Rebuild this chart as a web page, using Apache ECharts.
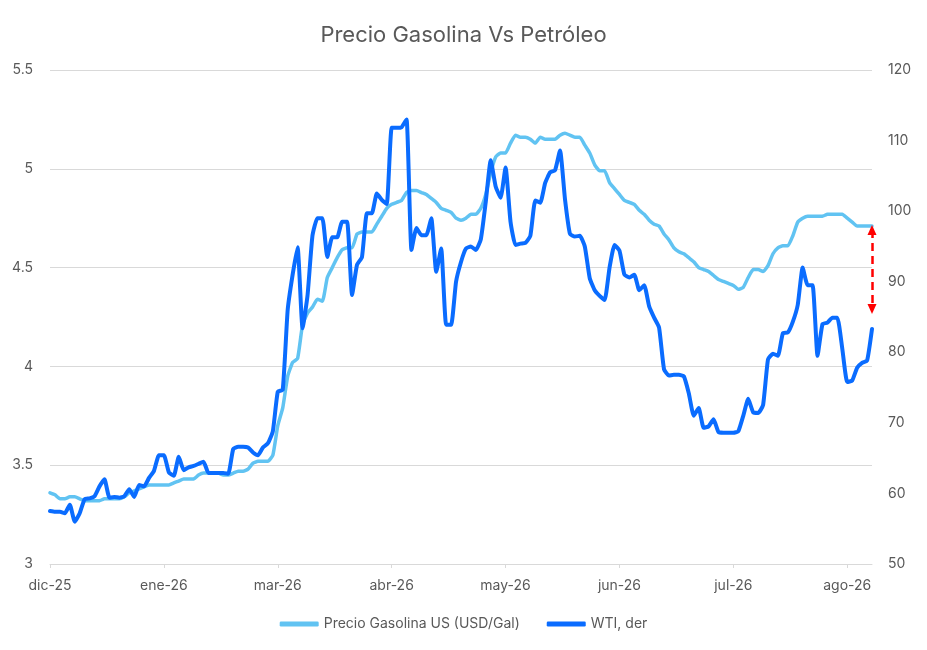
<!DOCTYPE html>
<html>
<head>
<meta charset="utf-8">
<script src="https://cdn.jsdelivr.net/npm/echarts@6/dist/echarts.min.js"></script>
<style>html,body{margin:0;padding:0;background:#fff}#c{width:927px;height:650px}</style>
</head>
<body>
<div id="c"></div>
<script>
var tickLabels = ["dic-25","ene-26","mar-26","abr-26","may-26","jun-26","jul-26","ago-26"];
var tickEvery = 23;
var gasolina = [
3.36,3.35,3.33,3.33,3.34,3.34,3.33,3.32,3.32,3.32,
3.32,3.33,3.33,3.33,3.33,3.34,3.36,3.37,3.38,3.39,
3.40,3.40,3.40,3.40,3.40,3.41,3.42,3.43,3.43,3.43,
3.45,3.46,3.46,3.46,3.46,3.45,3.45,3.46,3.47,3.47,
3.48,3.51,3.52,3.52,3.52,3.55,3.70,3.79,3.95,4.02,
4.04,4.21,4.27,4.30,4.34,4.33,4.45,4.50,4.55,4.59,
4.60,4.60,4.67,4.68,4.68,4.68,4.72,4.76,4.80,4.82,
4.83,4.84,4.88,4.89,4.89,4.88,4.87,4.85,4.83,4.80,
4.79,4.78,4.75,4.74,4.75,4.77,4.77,4.80,4.87,4.98,
5.06,5.08,5.08,5.13,5.17,5.16,5.16,5.15,5.13,5.16,
5.15,5.15,5.15,5.17,5.18,5.17,5.16,5.16,5.12,5.08,
5.02,4.99,4.99,4.93,4.90,4.87,4.84,4.83,4.82,4.79,
4.77,4.74,4.72,4.71,4.67,4.64,4.60,4.58,4.57,4.55,
4.53,4.50,4.49,4.48,4.46,4.44,4.43,4.42,4.41,4.39,
4.40,4.45,4.49,4.49,4.48,4.51,4.57,4.60,4.61,4.61,
4.66,4.73,4.75,4.76,4.76,4.76,4.76,4.77,4.77,4.77,
4.77,4.75,4.73,4.71,4.71,4.71,4.71
];
var wti = [
57.5,57.4,57.4,57.2,58.4,56.0,57.2,59.2,59.3,59.6,
61.0,62.0,59.4,59.5,59.4,59.6,60.6,59.5,61.2,61.0,
62.2,63.2,65.4,65.4,63.0,62.5,65.2,63.3,63.7,63.9,
64.2,64.5,62.9,62.9,62.9,62.9,62.8,66.3,66.6,66.6,
66.5,65.8,65.4,66.5,67.1,68.8,74.4,74.7,86.0,91.0,
94.9,83.4,88.0,96.5,99.0,99.0,93.5,96.3,96.3,98.5,
98.5,88.1,92.4,93.5,99.7,99.7,102.5,101.6,101.0,111.8,
111.8,111.9,113.0,94.5,97.6,96.6,96.6,99.0,91.4,94.7,
83.9,83.9,90.0,92.8,94.7,95.0,94.5,96.0,101.3,107.2,
103.5,101.9,106.2,98.5,95.2,95.4,95.5,96.5,101.5,101.2,
104.0,105.5,105.8,108.6,101.7,96.8,96.4,96.5,95.0,90.5,
88.8,88.0,87.4,92.0,95.2,94.4,91.0,90.6,91.0,88.8,
89.5,86.5,84.9,83.5,77.6,76.7,76.8,76.8,76.6,74.2,
71.0,72.1,69.3,69.5,70.5,68.7,68.6,68.6,68.6,68.8,
71.0,73.4,71.5,71.4,72.5,79.0,79.8,79.5,82.7,82.8,
84.3,86.7,92.0,89.5,89.5,79.5,84.0,84.2,84.9,84.9,
80.5,75.8,76.0,77.8,78.5,78.8,83.3
];
// arrow annotation (left-axis values at the last point)
var arrowTop = 4.69, arrowBottom = 4.29;

var cats = gasolina.map(function(_, i){ return String(i); });
var FONT = 'Inter';
var TXT = '#595959';
var chart = echarts.init(document.getElementById('c'), null, {renderer:'canvas'});
var lastIdx = cats.length - 1;
chart.setOption({
  animation:false,
  textStyle:{fontFamily:FONT},
  title:{text:'Precio Gasolina Vs Petróleo', left:'center', top:19,
    textStyle:{fontFamily:FONT, fontSize:22, fontWeight:'normal', color:TXT}},
  legend:{bottom:14, left:'center', itemWidth:39, itemHeight:5, itemGap:27, icon:'roundRect',
    textStyle:{fontFamily:FONT, fontSize:14, color:TXT},
    data:['Precio Gasolina US (USD/Gal)','WTI, der']},
  grid:{left:50, right:55, top:70, bottom:86},
  xAxis:{type:'category', data:cats, boundaryGap:false,
    axisLine:{lineStyle:{color:'#D9D9D9', width:1}},
    axisTick:{show:true, length:4, lineStyle:{color:'#D9D9D9'},
      interval:function(i){return i % tickEvery === 0;}},
    axisLabel:{interval:function(i){return i % tickEvery === 0;}, margin:15,
      fontFamily:FONT, fontSize:14, color:TXT,
      formatter:function(v, i){ return tickLabels[i / tickEvery] || ''; }},
    splitLine:{show:false}},
  yAxis:[
    {type:'value', min:3, max:5.5, interval:0.5, position:'left',
      axisLine:{show:false}, axisTick:{show:false},
      axisLabel:{margin:17, fontFamily:FONT, fontSize:14, color:TXT},
      splitLine:{lineStyle:{color:'#D9D9D9', width:1}}},
    {type:'value', min:50, max:120, interval:10, position:'right',
      axisLine:{show:false}, axisTick:{show:false},
      axisLabel:{margin:16, fontFamily:FONT, fontSize:14, color:TXT},
      splitLine:{show:false}}
  ],
  series:[
    {name:'Precio Gasolina US (USD/Gal)', type:'line', data:gasolina, yAxisIndex:0,
      showSymbol:false, symbol:'none', color:'#61C3F2', smooth:0.15,
      lineStyle:{width:3.5, color:'#61C3F2', cap:'round', join:'round'},
      markLine:{silent:true, symbol:['triangle','triangle'], symbolSize:[9,10],
        label:{show:false},
        lineStyle:{color:'#FF0000', width:2.5, type:[8,5]},
        data:[[{coord:[String(lastIdx), arrowTop]},{coord:[String(lastIdx), arrowBottom]}]]}},
    {name:'WTI, der', type:'line', data:wti, yAxisIndex:1,
      showSymbol:false, symbol:'none', color:'#0A6CFF', smooth:0.15,
      lineStyle:{width:4, color:'#0A6CFF', cap:'round', join:'round'}}
  ]
});
</script>
</body>
</html>
